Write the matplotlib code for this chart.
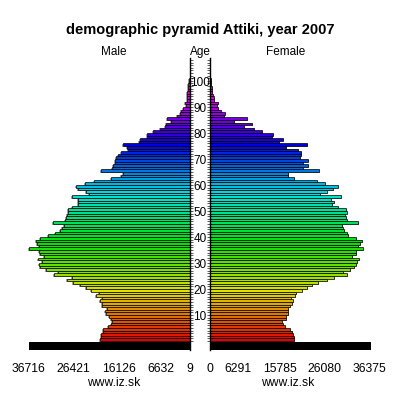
import matplotlib
matplotlib.use("Agg")
import matplotlib.pyplot as plt
import matplotlib.transforms as mtransforms
from matplotlib.colors import hsv_to_rgb

plt.rcParams['font.family'] = ['Liberation Sans', 'DejaVu Sans']

# population of Attiki in 2007 by single year of age (0..100)
ages = list(range(0, 101))
male = [
    20340, 20246, 20110, 19722, 19654, 18514, 17898, 17670, 17830, 18354,
    18970, 19198, 18810, 19882, 19882, 20474, 19882, 21250, 20566, 22458,
    23666, 24898, 26494, 27862, 26722, 30962, 29982, 32786, 34018, 34246,
    33698, 34610, 33174, 34154, 34246, 36716, 34314, 34770, 34998, 34154,
    32194, 30666, 29458, 29138, 28546, 31054, 28386, 28158, 27930, 27770,
    27634, 26722, 25354, 25354, 25490, 26858, 22914, 23598, 25490, 25878,
    23826, 21706, 17898, 15686, 15094, 20178, 17602, 17510, 16986, 16986,
    16758, 16302, 15618, 14090, 14318, 15094, 11446, 11286, 9758, 9758,
    8390, 6726, 5586, 5358, 4286, 5062, 2782, 2166, 2006, 1414,
    866, 958, 638, 570, 502, 502, 410, 342, 274, 182,
    114,
]
female = [
    19152, 19015, 18924, 18559, 18103, 17032, 16576, 16416, 17191, 17328,
    17647, 17716, 17784, 18240, 18696, 18856, 18331, 19312, 19471, 20839,
    21979, 23119, 24624, 26676, 28272, 31236, 30187, 31852, 32832, 33151,
    33379, 33904, 32376, 33151, 33151, 34884, 33607, 34132, 34519, 33151,
    31464, 31099, 30415, 30324, 29959, 33744, 31099, 30940, 30712, 31236,
    30871, 29184, 27816, 28272, 27520, 29731, 25012, 26676, 28044, 29047,
    26152, 24259, 19152, 17784, 17784, 24784, 21204, 22344, 21067, 22207,
    20452, 20600, 20680, 19927, 17191, 21979, 15664, 16644, 13999, 14227,
    11856, 10032, 7752, 9439, 5335, 8299, 3124, 3352, 2440, 1687,
    1459, 1687, 912, 775, 616, 456, 456, 319, 228, 160,
    100,
]

male_ticks = [36716, 26421, 16126, 6632, 9]
female_ticks = [0, 6291, 15785, 26080, 36375]
age_labels = [10, 20, 30, 40, 50, 60, 70, 80, 90, 100]
xmax = 36716

# rainbow colours: red for the youngest, magenta for the oldest
colors = [hsv_to_rgb(((a * 3.2 / 360.0) % 1.0, 1.0, 0.88)) for a in ages]

fig = plt.figure(figsize=(4, 4), dpi=100)
axL = fig.add_axes([28.5 / 400, 0.125, 161 / 400, 0.73])
axR = fig.add_axes([210.3 / 400, 0.125, 161 / 400, 0.73])

for ax, vals, ticks in [(axL, male, male_ticks), (axR, female, female_ticks)]:
    # soft grey shadow behind the bars
    ax.barh([a - 0.3 for a in ages], [v + 250 for v in vals], height=1.0,
            align='edge', color='#a0a0a0', linewidth=0, zorder=1)
    ax.barh(ages, vals, height=1.0, align='edge', color=colors,
            edgecolor='black', linewidth=0.5, zorder=2)
    # black base strip under the pyramid
    ax.barh(-3.46, xmax, height=2.96, align='edge', color='black', zorder=3)
    ax.set_ylim(-3.46, 108.8)
    ax.set_xticks(ticks)
    ax.set_xticklabels([str(t) for t in ticks], fontsize=8.7)
    ax.tick_params(axis='x', length=0, pad=9)
    ax.set_yticks(range(0, 109))
    ax.set_yticklabels([])
    for s in ax.spines.values():
        s.set_visible(False)

axL.set_xlim(xmax, 0)
axR.set_xlim(0, xmax)
axL.spines['right'].set_visible(True)
axL.spines['right'].set_linewidth(1.0)
axR.spines['left'].set_visible(True)
axR.spines['left'].set_linewidth(1.0)
axL.yaxis.tick_right()
axR.yaxis.tick_left()
axL.tick_params(axis='y', length=2.2, width=0.6, color='#444444')
axR.tick_params(axis='y', length=2.2, width=0.6, color='#444444')

# age labels in the gap between the halves
trans = mtransforms.blended_transform_factory(fig.transFigure, axL.transData)
for a in age_labels:
    fig.text(0.5, a - 0.7, str(a), transform=trans, ha='center', va='center',
             fontsize=8.5)

fig.text(0.5, 1 - 30 / 400, 'demographic pyramid Attiki, year 2007',
         ha='center', va='center', fontsize=10.5, fontweight='bold')
fig.text(114 / 400, 1 - 52 / 400, 'Male', ha='center', va='center', fontsize=8.5)
fig.text(0.5, 1 - 52 / 400, 'Age', ha='center', va='center', fontsize=8.5)
fig.text(286 / 400, 1 - 52 / 400, 'Female', ha='center', va='center', fontsize=8.5)
fig.text(114 / 400, 1 - 383 / 400, 'www.iz.sk', ha='center', va='center', fontsize=8.7)
fig.text(288 / 400, 1 - 383 / 400, 'www.iz.sk', ha='center', va='center', fontsize=8.7)

fig.savefig('out.png', dpi=100)
